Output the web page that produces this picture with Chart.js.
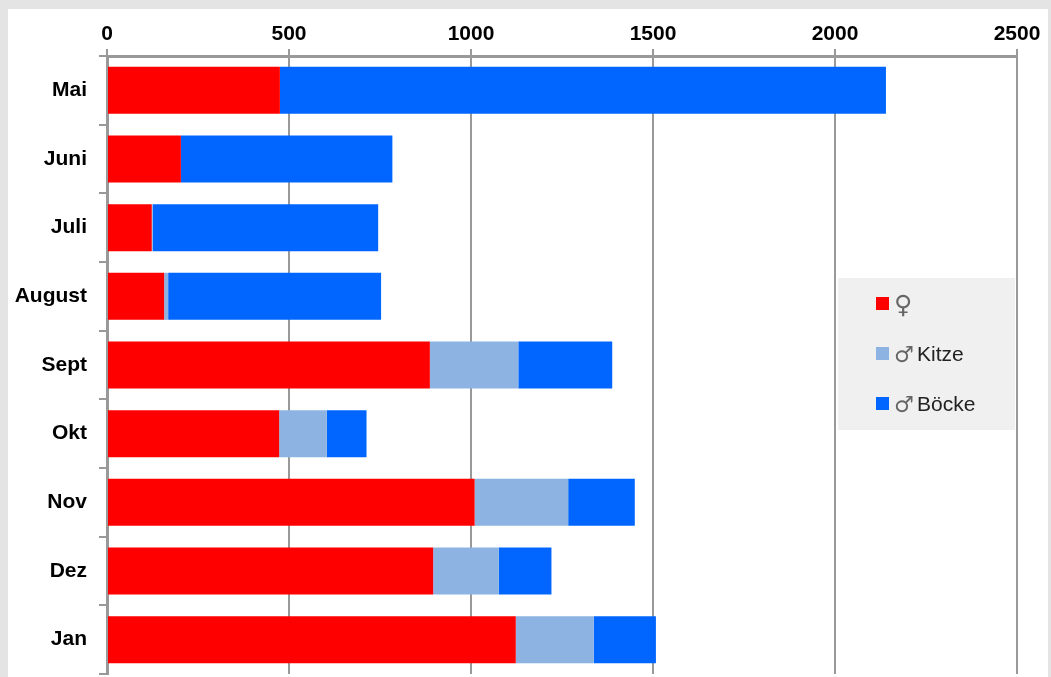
<!DOCTYPE html>
<html>
<head>
<meta charset="utf-8">
<script src="https://cdn.jsdelivr.net/npm/chart.js@4/dist/chart.umd.min.js"></script>
<style>
  html, body { margin: 0; padding: 0; background: #e4e4e4; overflow: hidden; }
  #panel { position: absolute; left: 8px; top: 9px; width: 1040px; height: 668px; background: #fff; }
</style>
</head>
<body>
<div id="panel"><canvas id="chart"></canvas></div>
<script>
// ---- data ----
const months = ["Mai", "Juni", "Juli", "August", "Sept", "Okt", "Nov", "Dez", "Jan"];
const females = [475, 203, 123, 157, 887, 473, 1010, 896, 1123];
const kitze = [0, 0, 3, 11, 243, 131, 257, 180, 214];
const boecke = [1665, 581, 619, 585, 258, 109, 183, 145, 171];
const xTicks = [0, 500, 1000, 1500, 2000, 2500];

const seriesLabels = ["♀", "♂ Kitze", "♂ Böcke"];
const seriesColors = ["#ff0000", "#8db3e2", "#0066ff"];

const gridGray = "#999999";
const labelFont = { family: "'Liberation Sans', Arial, sans-serif", size: 21, weight: "bold" };

// legend box drawn over the chart area (gray background like the original)
const legendBox = {
  id: "legendBox",
  afterDraw(chart) {
    const ctx = chart.ctx;
    const area = chart.chartArea;
    const x = area.right - 179;
    const y = 269;
    ctx.save();
    ctx.fillStyle = "#f0f0f0";
    ctx.fillRect(x, y, 177, 152);
    chart.data.datasets.forEach((ds, i) => {
      const cy = y + 26 + i * 50;
      ctx.fillStyle = ds.backgroundColor;
      ctx.fillRect(x + 38, cy - 7, 13, 13);
      const sym = ds.label.charAt(0);
      const rest = ds.label.slice(1).trim();
      ctx.textBaseline = "middle";
      ctx.textAlign = "left";
      // female sign a bit taller than the male one, like the original
      ctx.font = (i === 0 ? "25px" : "22px") + " 'Noto Sans', 'DejaVu Sans', sans-serif";
      ctx.fillStyle = "#666";
      ctx.fillText(sym, x + 56, cy + 2);
      if (rest) {
        ctx.font = "21px 'Liberation Sans', Arial, sans-serif";
        ctx.fillStyle = "#222";
        ctx.fillText(rest, x + 79, cy + 1);
      }
    });
    ctx.restore();
  }
};

new Chart(document.getElementById("chart"), {
  type: "bar",
  data: {
    labels: months,
    datasets: [females, kitze, boecke].map((vals, i) => ({
      label: seriesLabels[i],
      data: vals,
      backgroundColor: seriesColors[i],
      borderWidth: 0,
      barPercentage: 0.685,
      categoryPercentage: 1
    }))
  },
  options: {
    indexAxis: "y",
    responsive: true,
    maintainAspectRatio: false,
    animation: false,
    layout: { padding: { left: 0, right: 31, top: 0, bottom: 3 } },
    plugins: {
      legend: { display: false },
      tooltip: { enabled: false }
    },
    scales: {
      x: {
        position: "top",
        stacked: true,
        min: 0,
        max: 2500,
        afterBuildTicks(scale) {
          scale.ticks = xTicks.map(v => ({ value: v }));
        },
        afterFit(scale) { scale.height = 47; },
        grid: {
          color: gridGray,
          lineWidth: 2,
          tickLength: 7,
          drawTicks: true
        },
        border: { color: gridGray, width: 3 },
        ticks: {
          color: "#000",
          font: labelFont,
          padding: 2,
          maxRotation: 0,
          callback: v => String(v)
        }
      },
      y: {
        stacked: true,
        afterFit(scale) {
          scale.width = 99;
          scale.paddingTop = 0;
          scale.paddingBottom = 0;
        },
        grid: {
          drawOnChartArea: false,
          drawTicks: true,
          tickLength: 8,
          color: gridGray,
          lineWidth: 2
        },
        border: { color: gridGray, width: 3 },
        ticks: {
          color: "#000",
          font: labelFont,
          padding: 12
        }
      }
    }
  },
  plugins: [legendBox]
});
</script>
</body>
</html>
